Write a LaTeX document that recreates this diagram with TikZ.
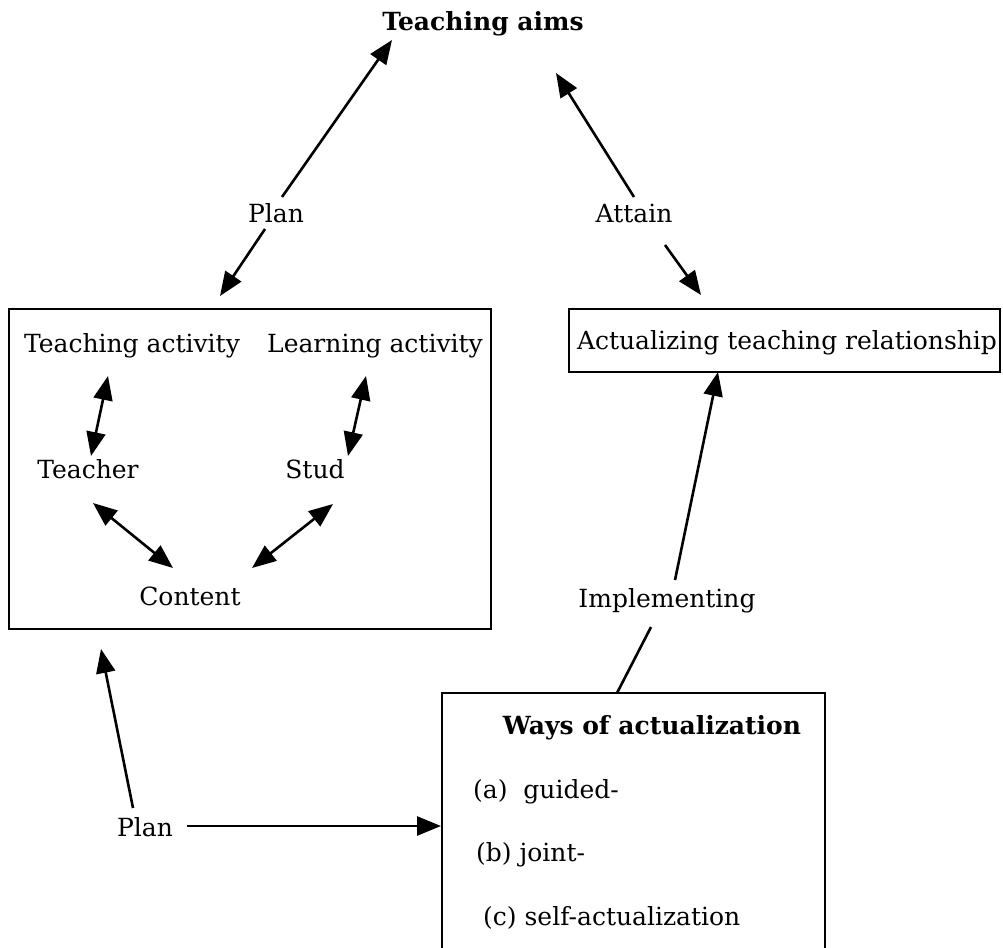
\documentclass[tikz,border=0pt]{standalone}
\usepackage{fontspec}
\setmainfont{DejaVu Serif}
\usetikzlibrary{arrows.meta}
\begin{document}
\begin{tikzpicture}[x=1pt,y=-1pt,
  lbl/.style={anchor=base,inner sep=0pt,font=\fontsize{25}{29}\selectfont},
  blbl/.style={lbl,font=\fontsize{25}{29}\selectfont\bfseries},
  boxline/.style={draw,line width=2.6pt},
  arr/.style={line width=2.6pt,-{Triangle[length=24pt,width=19pt]}},
  darr/.style={line width=2.6pt,{Triangle[length=24pt,width=19pt]}-{Triangle[length=24pt,width=19pt]}},
  ln/.style={line width=2.6pt}]
\useasboundingbox (0,0) rectangle (1003,947);

% boxes
\node[boxline,minimum width=482pt,minimum height=320pt,inner sep=0pt] (lbox) at (250,469) {};
\node[boxline,minimum width=431pt,minimum height=63pt,inner sep=0pt] (rbox) at (784.5,340.5) {};
\coordinate (wbl) at (442,950);
\coordinate (wbr) at (825,950);
\coordinate (wtop) at (617,693);
\draw[ln] (wbl) |- (wtop) -| (wbr);

% labels
\node[blbl] (aims) at (483,31) {Teaching aims};
\node[lbl] (plan1) at (276,222) {Plan};
\node[lbl] (attain) at (634,222) {Attain};
\node[lbl] (tact) at (132,352) {Teaching activity};
\node[lbl] (lact) at (375,352) {Learning activity};
\node[lbl] (teacher) at (88,478) {Teacher};
\node[lbl] (stud) at (315,478) {Stud};
\node[lbl] (content) at (190,605) {Content};
\node[lbl] (actual) at (787,349) {Actualizing teaching relationship};
\node[lbl] (impl) at (667,607) {Implementing};
\node[blbl] (ways) at (652,734) {Ways of actualization};
\node[lbl,anchor=base west] (ga) at (473,798) {(a)\ \ guided-};
\node[lbl,anchor=base west] (gb) at (476,861) {(b) joint-};
\node[lbl,anchor=base west] (gc) at (483,925) {(c) self-actualization};
\node[lbl] (plan2) at (145,836) {Plan};

% connector end points
\coordinate (p1a) at (282,197);
\coordinate (p1b) at (392,40);
\coordinate (p1c) at (265,229);
\coordinate (p1d) at (220,296);
\coordinate (ata) at (634,197);
\coordinate (atb) at (556,73);
\coordinate (atc) at (665,245);
\coordinate (atd) at (701,295);
\coordinate (imb) at (718,372);
\coordinate (ima) at (675,580);
\coordinate (imc) at (651,627);
\coordinate (p2a) at (133,808);
\coordinate (p2b) at (101,649);
\coordinate (p2c) at (187,826);
\coordinate (p2d) at (441,826);

\draw[arr] (p1a) -- (p1b);
\draw[arr] (p1c) -- (p1d);
\draw[arr] (ata) -- (atb);
\draw[arr] (atc) -- (atd);
\draw[arr] (ima) -- (imb);
\draw[ln] (imc) -- (wtop);
\draw[arr] (p2a) -- (p2b);
\draw[arr] (p2c) -- (p2d);

% inner arrows
\draw[darr] (108,376) -- (91,456);
\draw[darr] (366,376) -- (348,456);
\draw[darr] (93,503) -- (173,568);
\draw[darr] (333,504) -- (252,568);
\end{tikzpicture}
\end{document}
